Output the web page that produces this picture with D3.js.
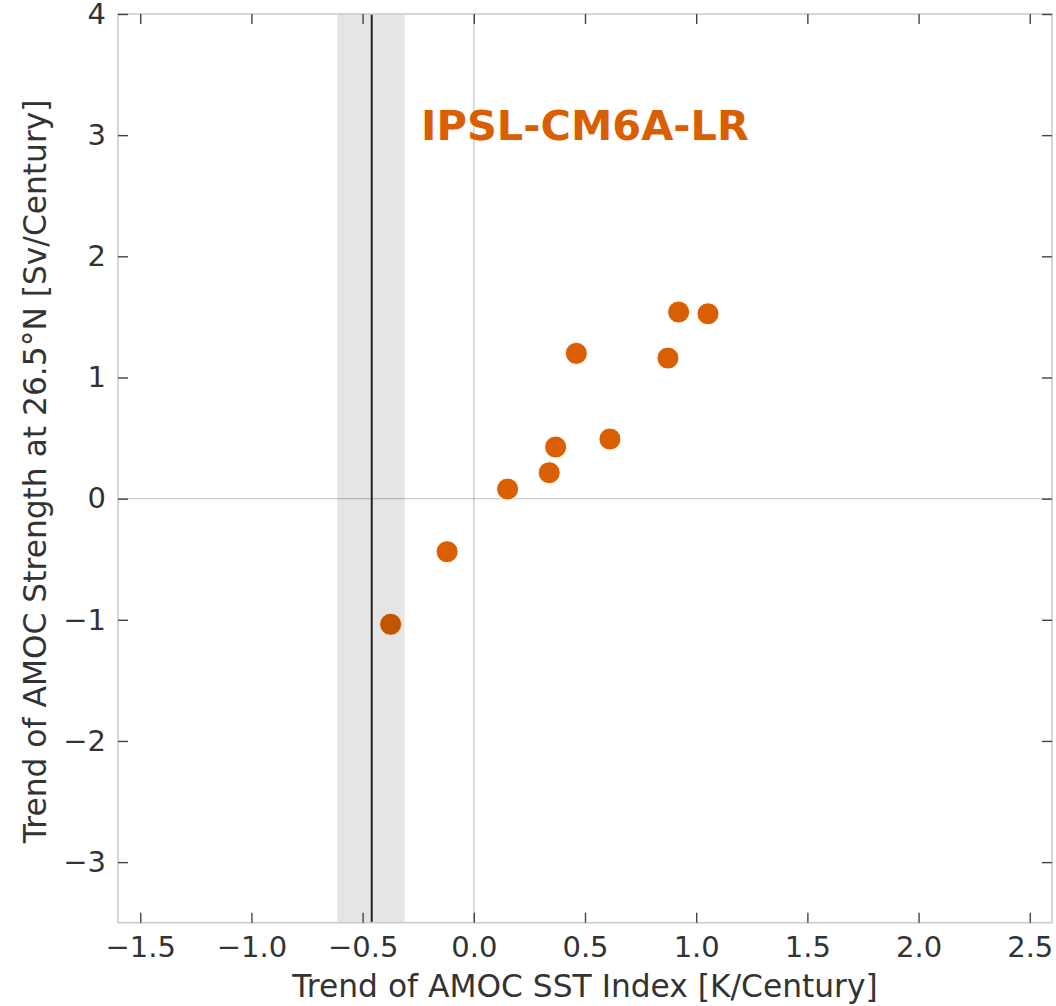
<!DOCTYPE html>
<html>
<head>
<meta charset="utf-8">
<script src="https://cdn.jsdelivr.net/npm/d3@7"></script>
<style>
  html, body { margin: 0; padding: 0; background: #fff; }
  svg { display: block; font-family: "DejaVu Sans", sans-serif; }
</style>
</head>
<body>
<svg id="chart" width="1056" height="1006"></svg>
<script>
// Ensemble members: AMOC SST-index trend vs AMOC strength trend
const modelName = "IPSL-CM6A-LR";
const sstTrend  = [-0.374, -0.120, 0.152, 0.339, 0.368, 0.461, 0.612, 0.873, 0.921, 1.053];
const amocTrend = [-1.037, -0.438, 0.079, 0.214, 0.426, 1.199, 0.492, 1.160, 1.540, 1.526];

// Observed SST-index trend and its uncertainty range
const obsTrend = -0.459;
const obsRange = [-0.614, -0.311];

const xTicks = [-1.5, -1.0, -0.5, 0.0, 0.5, 1.0, 1.5, 2.0, 2.5];
const yTicks = [-3, -2, -1, 0, 1, 2, 3, 4];
const xDomain = [-1.6, 2.6];
const yDomain = [-3.5, 4];

const xLabel = "Trend of AMOC SST Index [K/Century]";
const yLabel = "Trend of AMOC Strength at 26.5°N [Sv/Century]";

const color = "#d95f02";

const svg = d3.select("#chart");
const plotL = 118, plotR = 1052, plotT = 14, plotB = 922.7;

const x = d3.scaleLinear().domain(xDomain).range([plotL, plotR]);
const y = d3.scaleLinear().domain(yDomain).range([plotB, plotT]);

const fmtX = v => d3.format(".1f")(v).replace("-", "\u2212");
const fmtY = v => d3.format("d")(v).replace("-", "\u2212");

// zero reference lines
svg.append("line")
  .attr("x1", x(0)).attr("x2", x(0)).attr("y1", plotT).attr("y2", plotB)
  .attr("stroke", "#000").attr("stroke-opacity", 0.2).attr("stroke-width", 1.4);
svg.append("line")
  .attr("x1", plotL).attr("x2", plotR).attr("y1", y(0)).attr("y2", y(0))
  .attr("stroke", "#000").attr("stroke-opacity", 0.2).attr("stroke-width", 1.4);

// model name
svg.append("text")
  .attr("x", x(-0.237)).attr("y", y(2.96))
  .attr("fill", color)
  .attr("font-weight", "bold")
  .attr("font-size", 41.5)
  .text(modelName);

// scatter points
const pts = sstTrend.map((v, i) => ({ x: v, y: amocTrend[i] }));
svg.append("g").selectAll("circle")
  .data(pts)
  .join("circle")
  .attr("cx", d => x(d.x))
  .attr("cy", d => y(d.y))
  .attr("r", 11)
  .attr("fill", color)
  .attr("stroke", "#fff")
  .attr("stroke-width", 1);

// observed range band and central value
svg.append("rect")
  .attr("x", x(obsRange[0]))
  .attr("width", x(obsRange[1]) - x(obsRange[0]))
  .attr("y", plotT).attr("height", plotB - plotT)
  .attr("fill", "#000").attr("fill-opacity", 0.1);
svg.append("line")
  .attr("x1", x(obsTrend)).attr("x2", x(obsTrend))
  .attr("y1", plotT).attr("y2", plotB)
  .attr("stroke", "#222").attr("stroke-width", 2);

// frame
svg.append("rect")
  .attr("x", plotL).attr("y", plotT)
  .attr("width", plotR - plotL).attr("height", plotB - plotT)
  .attr("fill", "none").attr("stroke", "#cccccc").attr("stroke-width", 1.6);

// axes: ticks pointing inward on all four sides
const tickLen = 10;
const tickFont = 29;
function styleAxis(g) {
  g.select(".domain").remove();
  g.selectAll(".tick line").attr("stroke", "#444").attr("stroke-width", 1.4);
  g.selectAll(".tick text").attr("fill", "#333").attr("font-size", tickFont)
    .attr("font-family", "DejaVu Sans, sans-serif");
}

const xb = svg.append("g").attr("transform", `translate(0,${plotB})`)
  .call(d3.axisBottom(x).tickValues(xTicks).tickFormat(fmtX).tickSizeInner(-tickLen).tickPadding(14));
styleAxis(xb);
xb.selectAll(".tick text").attr("dy", "0.71em");

const xt = svg.append("g").attr("transform", `translate(0,${plotT})`)
  .call(d3.axisTop(x).tickValues(xTicks).tickFormat("").tickSizeInner(-tickLen));
styleAxis(xt);

const yl = svg.append("g").attr("transform", `translate(${plotL},0)`)
  .call(d3.axisLeft(y).tickValues(yTicks).tickFormat(fmtY).tickSizeInner(-tickLen).tickPadding(12));
styleAxis(yl);

const yr = svg.append("g").attr("transform", `translate(${plotR},0)`)
  .call(d3.axisRight(y).tickValues(yTicks).tickFormat("").tickSizeInner(-tickLen));
styleAxis(yr);

// axis titles
svg.append("text")
  .attr("x", (plotL + plotR) / 2).attr("y", 997)
  .attr("text-anchor", "middle")
  .attr("fill", "#333").attr("font-size", 31.3)
  .text(xLabel);

svg.append("text")
  .attr("transform", `translate(45.5,${(plotT + plotB) / 2 + 3}) rotate(-90)`)
  .attr("text-anchor", "middle")
  .attr("fill", "#333").attr("font-size", 31.3)
  .text(yLabel);
</script>
</body>
</html>
